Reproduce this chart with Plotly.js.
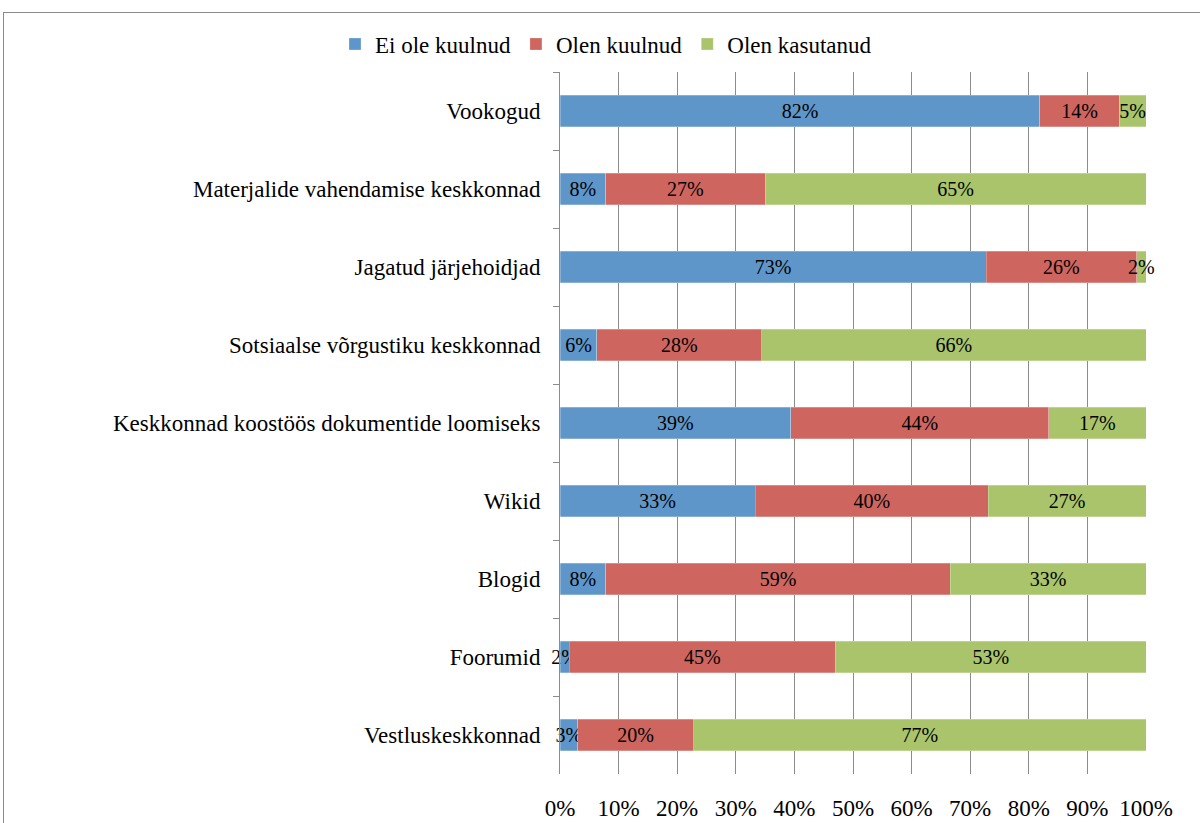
<!DOCTYPE html>
<html><head><meta charset="utf-8">
<script src="https://cdn.plot.ly/plotly-3.0.1.min.js"></script>
<style>
html,body{margin:0;padding:0;background:#fff;overflow:hidden;}
#frame{position:absolute;left:3px;top:12px;width:1300px;height:900px;border-left:1.5px solid #8a8a8a;border-top:1.5px solid #8a8a8a;}
#chart{position:absolute;left:0;top:0;width:1200px;height:823px;}
</style>
</head><body>
<div id="frame"></div>
<div id="chart"></div>
<script>
const categories = ["Vookogud","Materjalide vahendamise keskkonnad","Jagatud järjehoidjad","Sotsiaalse võrgustiku keskkonnad","Keskkonnad koostöös dokumentide loomiseks","Wikid","Blogid","Foorumid","Vestluskeskkonnad"];
const eiOleKuulnud = [81.9, 7.8, 72.7, 6.3, 39.4, 33.3, 7.8, 1.6, 3.0];
const olenKuulnud  = [13.5, 27.2, 25.7, 28.1, 44.0, 39.8, 58.8, 45.4, 19.8];
const olenKasutanud= [4.6, 65.0, 1.6, 65.6, 16.6, 26.9, 33.4, 53.0, 77.2];
const seriesNames = ["Ei ole kuulnud","Olen kuulnud","Olen kasutanud"];
const xTickVals = [0,10,20,30,40,50,60,70,80,90,100];
const xTickText = ["0%","10%","20%","30%","40%","50%","60%","70%","80%","90%","100%"];

const colors = ["#5F96C9","#CE655F","#A9C46A"];
const font = "'Liberation Serif', 'Times New Roman', serif";
const data = [eiOleKuulnud, olenKuulnud, olenKasutanud].map((vals,i)=>({
  type:"bar", orientation:"h", name:seriesNames[i],
  x: vals, y: categories,
  marker:{color:colors[i], line:{color:"rgba(255,255,255,0.5)", width:0.5}},
  texttemplate:"%{x:.0f}%", textposition:"inside", insidetextanchor:"middle", textangle:0,
  constraintext:"none", cliponaxis:false, textfont:{family:font, size:20, color:"#000"},
  hoverinfo:"skip"
}));

const layout = {
  width:1200, height:823,
  margin:{l:559.5, r:54, t:72, b:49, pad:0},
  paper_bgcolor:"rgba(0,0,0,0)", plot_bgcolor:"rgba(0,0,0,0)",
  barmode:"stack", bargap:0.59,
  font:{family:font, size:23, color:"#000"},
  showlegend:true,
  legend:{orientation:"h", xref:"container", yref:"container", x:0.505, xanchor:"center", y:0.9465, yanchor:"middle",
          font:{family:font, size:23, color:"#000"}, traceorder:"normal", itemwidth:30},
  xaxis:{range:[0,100], tickvals:xTickVals, ticktext:xTickText, showgrid:true, gridcolor:"#8c8c8c", gridwidth:1,
         zeroline:false, showline:false, ticks:"", ticklabelstandoff:18, fixedrange:true,
         tickfont:{family:font, size:23, color:"#000"}},
  yaxis:{type:"category", autorange:false, range:[8.5,-0.5], tickson:"boundaries", ticks:"outside", ticklen:6, tickcolor:"#8c8c8c",
         showgrid:false, showline:true, linecolor:"#8c8c8c", linewidth:1, ticklabelstandoff:14,
         tickfont:{family:font, size:23, color:"#000"}}
};
Plotly.newPlot("chart", data, layout, {displayModeBar:false, staticPlot:true});
</script>
</body></html>
